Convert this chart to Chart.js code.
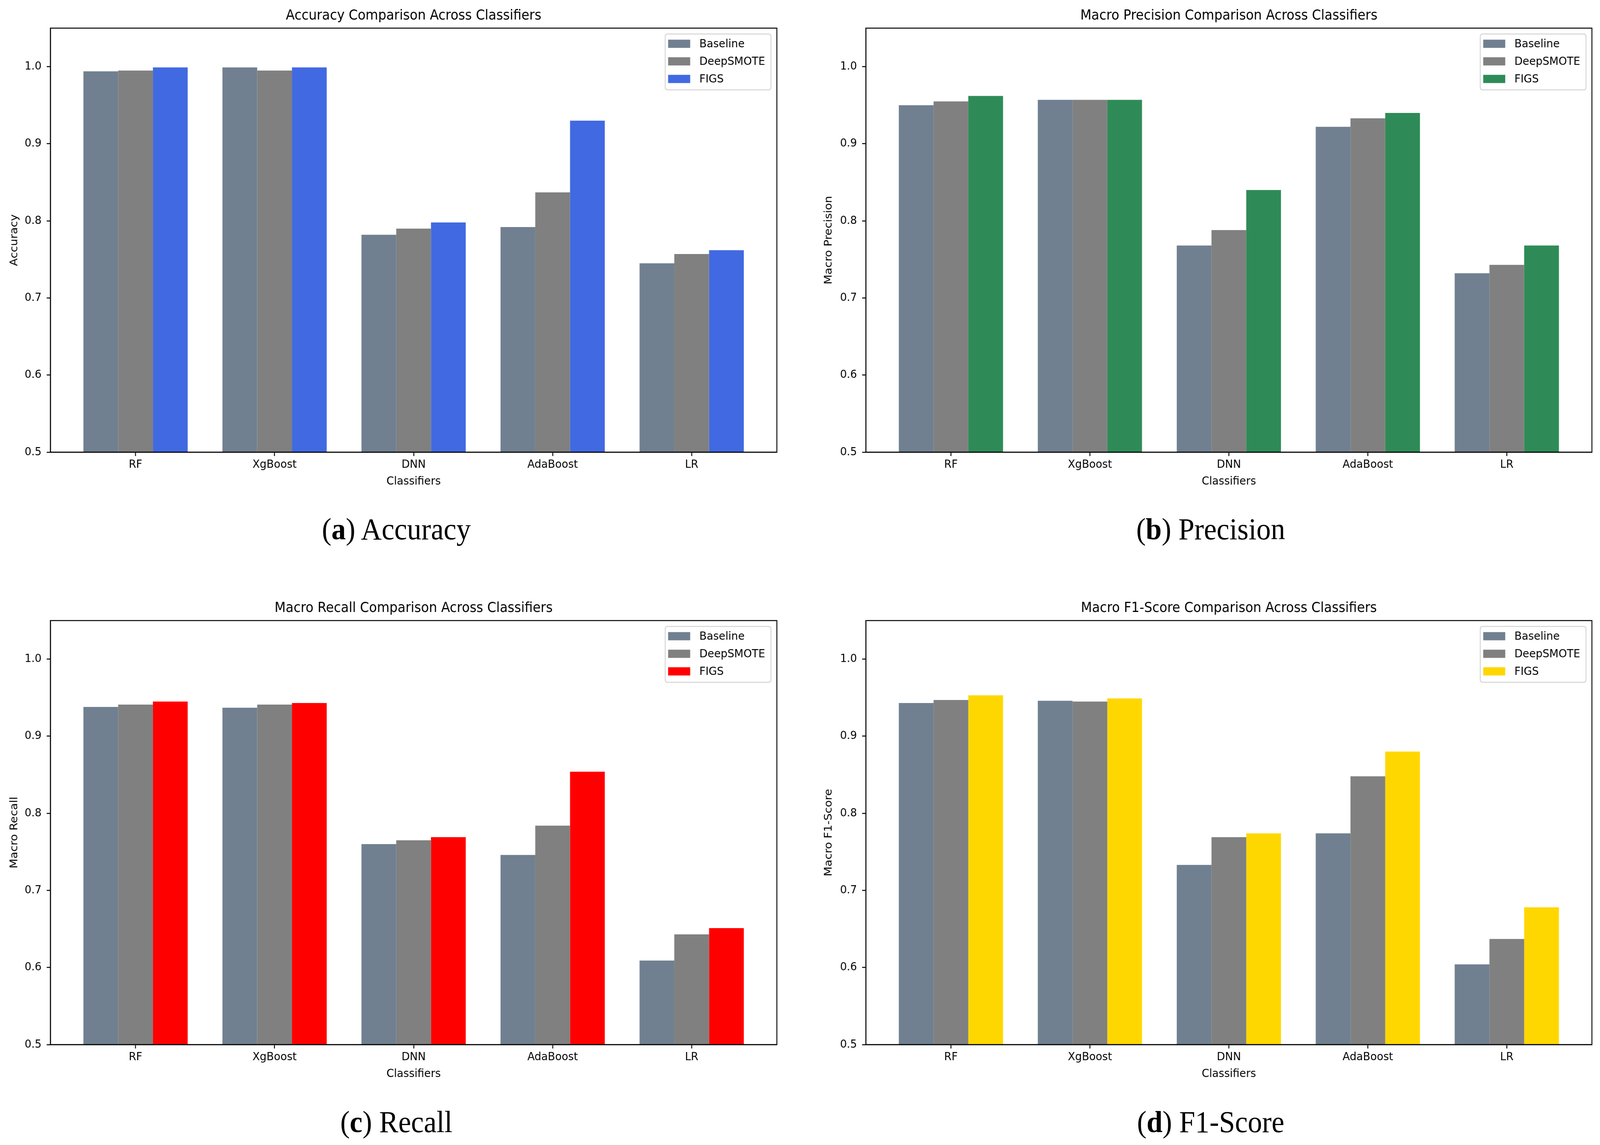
<!DOCTYPE html>
<html>
<head>
<meta charset="utf-8">
<script src="https://cdn.jsdelivr.net/npm/chart.js@4.4.1/dist/chart.umd.min.js"></script>
<style>
html, body { margin: 0; padding: 0; background: #fff; overflow: hidden; }
body { position: relative; width: 4352px; height: 2930px; }
#stage { position: absolute; left: 0; top: 0; width: 4352px; height: 2930px; transform-origin: 0 0; }
.panel { position: absolute; width: 2176px; height: 1290px; }
.caption { position: absolute; width: 1000px; height: 100px; line-height: 100px; text-align: center;
           font-family: 'Liberation Serif', serif; font-size: 78px; color: #000; }
</style>
</head>
<body>
<div id="stage">
<div class="panel" style="left:0;top:0"><canvas id="accChart"></canvas></div>
<div class="panel" style="left:2176px;top:0"><canvas id="precChart"></canvas></div>
<div class="panel" style="left:0;top:1516px"><canvas id="recChart"></canvas></div>
<div class="panel" style="left:2176px;top:1516px"><canvas id="f1Chart"></canvas></div>

<div class="caption" style="left:578px;top:1304px">(<b>a</b>) Accuracy</div>
<div class="caption" style="left:2793px;top:1304px">(<b>b</b>) Precision</div>
<div class="caption" style="left:578px;top:2821px">(<b>c</b>) Recall</div>
<div class="caption" style="left:2793px;top:2821px">(<b>d</b>) F1-Score</div>
</div>

<script>
/* Data */
const classifiers = ['RF', 'XgBoost', 'DNN', 'AdaBoost', 'LR'];
const seriesNames = ['Baseline', 'DeepSMOTE', 'FIGS'];
const yTickValues = [0.5, 0.6, 0.7, 0.8, 0.9, 1.0];

const accBaseline = [0.994, 0.999, 0.782, 0.792, 0.745];
const accDeepSmote = [0.995, 0.995, 0.790, 0.837, 0.757];
const accFigs = [0.999, 0.999, 0.798, 0.930, 0.762];

const precBaseline = [0.950, 0.957, 0.768, 0.922, 0.732];
const precDeepSmote = [0.955, 0.957, 0.788, 0.933, 0.743];
const precFigs = [0.962, 0.957, 0.840, 0.940, 0.768];

const recBaseline = [0.938, 0.937, 0.760, 0.746, 0.609];
const recDeepSmote = [0.941, 0.941, 0.765, 0.784, 0.643];
const recFigs = [0.945, 0.943, 0.769, 0.854, 0.651];

const f1Baseline = [0.943, 0.946, 0.733, 0.774, 0.604];
const f1DeepSmote = [0.947, 0.945, 0.769, 0.848, 0.637];
const f1Figs = [0.953, 0.949, 0.774, 0.880, 0.678];

/* The window may be narrower than 4352: stretch the 4352x2930 layout over it */
const scaleX = window.innerWidth / 4352;
const scaleY = window.innerHeight / 2930;
document.getElementById('stage').style.transform = 'scale(' + scaleX + ',' + scaleY + ')';
document.body.style.width = (4352 * scaleX) + 'px';
document.body.style.height = (2930 * scaleY) + 'px';

Chart.defaults.font.family = '"DejaVu Sans", sans-serif';
Chart.defaults.color = '#000';

// legend inside the plot (upper right) + full axes frame
const frameAndLegend = {
    id: 'frameAndLegend',
    afterDraw(chart) {
        const ctx = chart.ctx, a = chart.chartArea;
        ctx.save();
        ctx.strokeStyle = '#000';
        ctx.lineWidth = 2.5;
        ctx.strokeRect(a.left, a.top, a.right - a.left, a.bottom - a.top);

        ctx.font = '29px "DejaVu Sans"';
        const sets = chart.data.datasets;
        const textW = Math.max(...sets.map(d => ctx.measureText(d.label).width));
        const w = 93 + textW + 16, h = 143;
        const x = a.right - 16 - w, y = a.top + 15;
        ctx.beginPath();
        ctx.roundRect(x, y, w, h, 6);
        ctx.fillStyle = 'rgba(255,255,255,0.8)';
        ctx.fill();
        ctx.strokeStyle = '#d4d4d4';
        ctx.lineWidth = 2.5;
        ctx.stroke();
        sets.forEach((d, i) => {
            const cy = y + 25 + i * 45;
            ctx.fillStyle = d.backgroundColor;
            ctx.fillRect(x + 8, cy - 10.5, 60, 21);
            ctx.fillStyle = '#000';
            ctx.textBaseline = 'middle';
            ctx.fillText(d.label, x + 93, cy + 1);
        });
        ctx.restore();
    }
};

function toPoints(values) {
    return values.map((v, i) => ({ x: i, y: v }));
}

function makeChart(id, title, yLabel, figsColor, base, deep, figs, rightColumn) {
    return new Chart(id, {
        type: 'bar',
        data: {
            datasets: [
                { label: seriesNames[0], data: toPoints(base), backgroundColor: '#708090' },
                { label: seriesNames[1], data: toPoints(deep), backgroundColor: '#808080' },
                { label: seriesNames[2], data: toPoints(figs), backgroundColor: figsColor },
            ]
        },
        options: {
            responsive: true,
            maintainAspectRatio: false,
            devicePixelRatio: 1,
            animation: false,
            events: [],
            layout: { padding: { left: 0, right: rightColumn ? 22 : 63, top: 0, bottom: 0 } },
            datasets: {
                bar: { categoryPercentage: 0.75, barPercentage: 1.0, borderWidth: 0 }
            },
            scales: {
                x: {
                    type: 'linear',
                    min: -0.6125,
                    max: 4.6125,
                    offset: false,
                    grid: { display: true, offset: false, drawOnChartArea: false, drawTicks: true,
                            tickLength: 10, tickWidth: 2.5, tickColor: '#000', color: '#000' },
                    border: { display: true, color: '#000', width: 2.5 },
                    afterBuildTicks: (s) => { s.ticks = classifiers.map((c, i) => ({ value: i })); },
                    afterFit: (s) => { s.height = 133; },
                    ticks: {
                        padding: 5,
                        font: { size: 29 },
                        maxRotation: 0,
                        autoSkip: false,
                        callback: (v) => classifiers[v]
                    },
                    title: {
                        display: true,
                        text: 'Classifiers',
                        font: { size: 29 },
                        padding: { top: 0, bottom: 40 }
                    }
                },
                y: {
                    min: 0.5,
                    max: 1.05,
                    grid: { display: true, drawOnChartArea: false, drawTicks: true,
                            tickLength: 10, tickWidth: 2.5, tickColor: '#000', color: '#000' },
                    border: { display: true, color: '#000', width: 2.5 },
                    afterBuildTicks: (s) => { s.ticks = yTickValues.map(v => ({ value: v })); },
                    afterFit: (s) => { s.width = rightColumn ? 179 : 137; },
                    ticks: {
                        padding: 14,
                        font: { size: 29 },
                        callback: (v) => v.toFixed(1)
                    },
                    title: {
                        display: true,
                        text: yLabel,
                        font: { size: 29 },
                        padding: { top: rightColumn ? 61 : 22, bottom: 0 }
                    }
                }
            },
            plugins: {
                legend: { display: false },
                tooltip: { enabled: false },
                title: {
                    display: true,
                    text: title,
                    fullSize: false,
                    font: { size: 35, weight: 'normal' },
                    padding: { top: 20, bottom: 10 }
                }
            }
        },
        plugins: [frameAndLegend]
    });
}

makeChart('accChart', 'Accuracy Comparison Across Classifiers', 'Accuracy', '#4169E1',
    accBaseline, accDeepSmote, accFigs, false);
makeChart('precChart', 'Macro Precision Comparison Across Classifiers', 'Macro Precision', '#2E8B57',
    precBaseline, precDeepSmote, precFigs, true);
makeChart('recChart', 'Macro Recall Comparison Across Classifiers', 'Macro Recall', '#FF0000',
    recBaseline, recDeepSmote, recFigs, false);
makeChart('f1Chart', 'Macro F1-Score Comparison Across Classifiers', 'Macro F1-Score', '#FFD700',
    f1Baseline, f1DeepSmote, f1Figs, true);
</script>
</body>
</html>
